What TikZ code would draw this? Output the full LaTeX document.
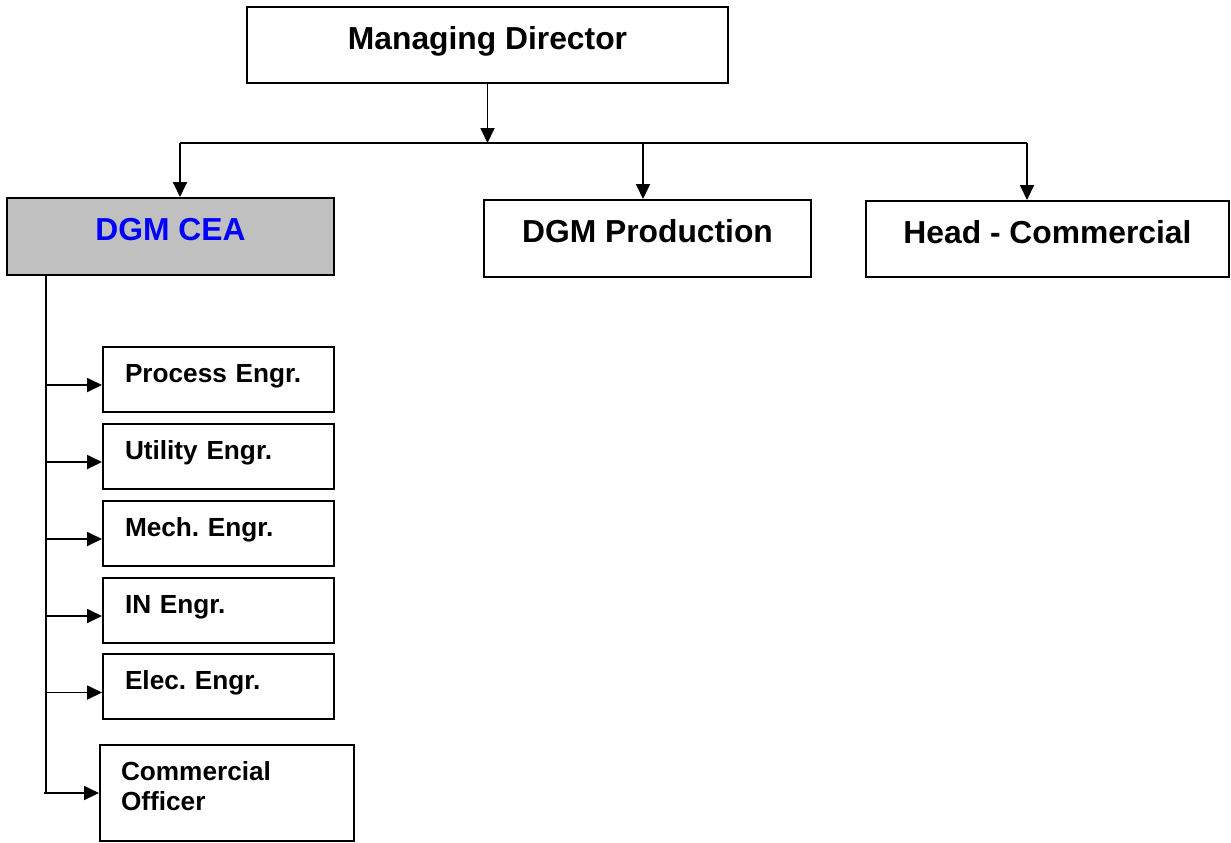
\documentclass[tikz,border=0pt]{standalone}
\usepackage{fontspec}
\setmainfont{Liberation Sans}
\frenchspacing
\usetikzlibrary{arrows.meta}
\definecolor{ceagray}{RGB}{192,192,192}
\tikzset{
  >={Triangle[length=7.5pt,width=7pt]},
  x=0.5pt, y=-0.5pt,
}
\tikzstyle{box}=[draw,line width=1pt,inner sep=0pt]
\tikzstyle{head}=[box,font=\fontsize{15.9}{19}\selectfont\bfseries,text height=11.4pt,text depth=7pt]
\tikzstyle{unit}=[box,font=\fontsize{13.1}{15}\selectfont\bfseries,minimum width=115.5pt,minimum height=32.5pt,text width=93.5pt,inner xsep=11pt,align=left]
\tikzstyle{link}=[line width=0.9pt]

\begin{document}
\begin{tikzpicture}
    \useasboundingbox (0,0) rectangle (1231,842);
    \node[head,minimum width=240.5pt,minimum height=38pt] (md) at (487.5,45) {Managing Director};
    \node[head,fill=ceagray,text=blue,minimum width=163.5pt,minimum height=38.5pt] (cea) at (170.5,236.5) {DGM CEA};
    \node[head,minimum width=163.5pt,minimum height=38.5pt] (prod) at (647.5,238.5) {DGM Production};
    \node[head,minimum width=181.5pt,minimum height=38pt] (comm) at (1047.5,239) {Head - Commercial};
    % bus below the MD
    \coordinate (busl) at (180,143);
    \coordinate (busp) at (643,143);
    \coordinate (busr) at (1027,143);
    \draw[link,->] (md.south) -- (md.south |- busl);
    \draw[link] (busl) -- (busr);
    \draw[link,->] (busl) -- (busl |- cea.north);
    \draw[link,->] (busp) -- (busp |- prod.north);
    \draw[link,->] (busr) -- (busr |- comm.north);
    % CEA sections
    \draw[link] (cea.south -| 46,0) -- (46,793);
    \foreach \nm/\yy/\txt in {proc/379/Process Engr., util/456/Utility Engr., mech/533/Mech. Engr., inst/610/IN Engr., elec/686.5/Elec. Engr.} {
      \node[unit,text height=9.4pt,text depth=6pt] (\nm) at (218.5,\yy) {\txt};
      \coordinate (\nm-in) at (46,\yy+6);
      \draw[link,->] (\nm-in) -- (\nm-in -| \nm.west);
    }
    \node[unit,minimum width=127pt,minimum height=48pt,text width=106pt,inner xsep=10.5pt,text height=9.4pt,text depth=22.4pt] (offi) at (227,793) {Commercial\\Officer};
    \coordinate (offi-in) at (44,793);
    \draw[link,->] (offi-in) -- (offi-in -| offi.west);
\end{tikzpicture}
\end{document}
